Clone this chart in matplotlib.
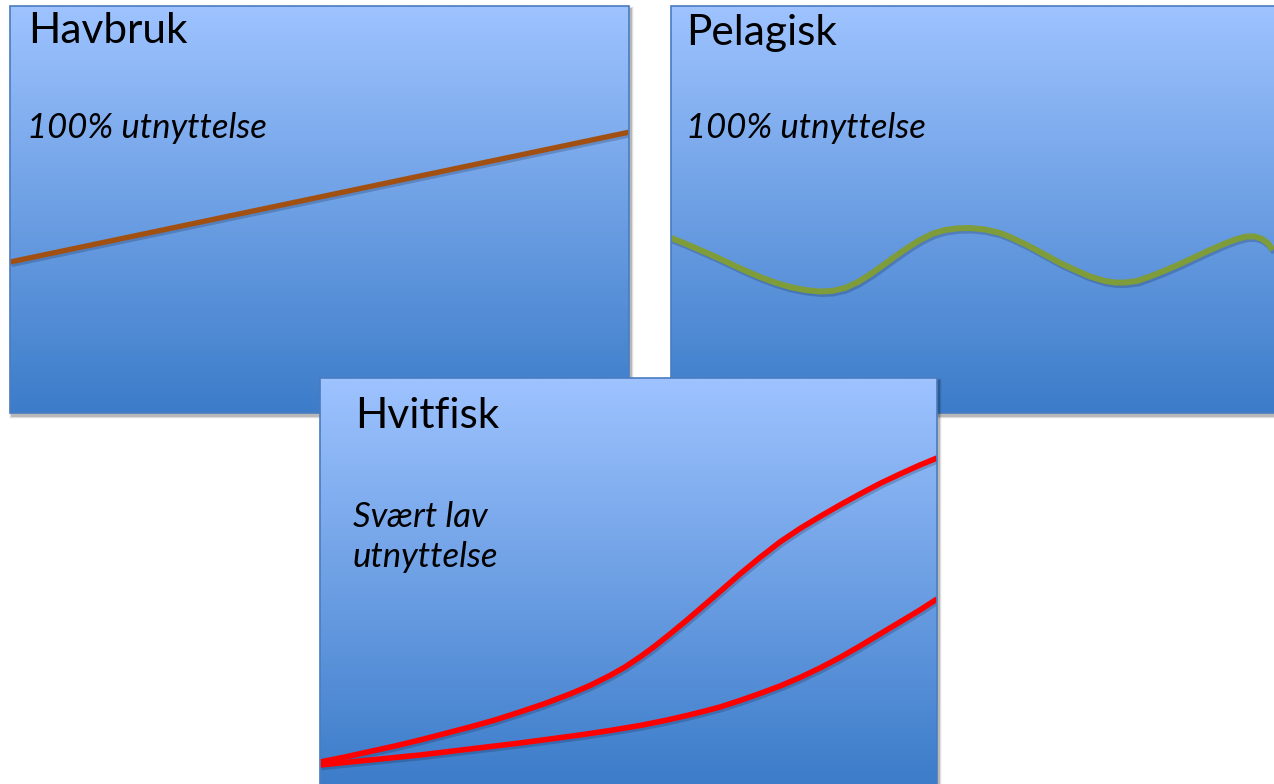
import numpy as np
import matplotlib
matplotlib.use("Agg")
import matplotlib.pyplot as plt
from matplotlib.patches import Rectangle
import matplotlib.patheffects as pe

# ---------------- data (panel units 0-100) ----------------
havbruk_x = [0, 100]
havbruk_y = [37.1, 69.0]

pelagisk_x = [0.0, 2.26, 4.68, 7.11, 9.53, 11.95, 14.38, 16.80, 19.22, 21.65,
              24.07, 26.01, 28.11, 30.21, 32.15, 34.09, 36.19, 38.29, 40.23, 42.33,
              44.26, 46.37, 48.30, 50.73, 53.15, 54.77, 57.19, 59.61, 62.84, 65.27,
              67.69, 70.11, 71.73, 73.34, 75.28, 77.38, 79.81, 82.23, 84.65, 87.08,
              89.50, 91.44, 93.05, 94.35, 95.48, 96.45, 97.25]
pelagisk_y = [43.00, 41.65, 40.05, 38.45, 36.73, 35.01, 33.42, 32.06, 30.96, 30.22,
              29.85, 29.98, 30.71, 32.19, 34.03, 36.12, 38.45, 40.66, 42.51, 44.10,
              44.96, 45.38, 45.45, 45.09, 44.23, 43.24, 41.52, 39.56, 36.86, 35.14,
              33.54, 32.43, 32.06, 32.06, 32.43, 33.54, 35.01, 36.61, 38.33, 40.05,
              41.65, 42.75, 43.37, 43.37, 42.75, 41.65, 40.05]

hvit_upper_x = [0, 4.05, 8.10, 12.16, 16.21, 20.26, 24.31, 28.36, 32.41, 36.47,
                40.52, 43.76, 47.00, 49.43, 51.86, 54.29, 56.73, 59.48, 62.40, 64.83,
                68.07, 71.31, 74.55, 77.80, 81.04, 84.28, 87.52, 90.76, 94.00, 97.24,
                100.0]
hvit_upper_y = [5.65, 6.88, 8.23, 9.58, 11.06, 12.65, 14.25, 15.97, 17.94, 20.02,
                22.36, 24.45, 26.90, 28.99, 31.45, 34.15, 37.10, 40.54, 44.35, 47.54,
                51.84, 55.90, 59.71, 63.02, 65.97, 68.80, 71.50, 74.08, 76.41, 78.62,
                80.34]
hvit_lower_x = [0, 4.05, 8.10, 12.16, 16.21, 20.26, 24.31, 28.36, 32.41, 37.28,
                42.14, 47.00, 51.86, 55.92, 59.48, 62.40, 64.83, 68.07, 71.31, 74.55,
                77.80, 81.04, 84.28, 87.52, 90.76, 94.00, 97.24, 100.0]
hvit_lower_y = [4.91, 5.53, 6.14, 6.76, 7.37, 8.11, 8.85, 9.58, 10.32, 11.30,
                12.29, 13.39, 14.62, 15.85, 17.08, 18.18, 19.16, 20.76, 22.48, 24.32,
                26.41, 28.75, 31.33, 34.15, 37.10, 40.05, 43.00, 45.70]

titles = ["Havbruk", "Pelagisk", "Hvitfisk"]
subtitles = [["100% utnyttelse"], ["100% utnyttelse"], ["Svært lav", "utnyttelse"]]

# ---------------- figure ----------------
W, H = 1274, 784
fig = plt.figure(figsize=(W / 100, H / 100), dpi=100)
fig.patch.set_facecolor("white")

top_col = np.array([158, 195, 255]) / 255
bot_col = np.array([60, 124, 201]) / 255
grad = np.linspace(0, 1, 256)[:, None, None]
grad_img = top_col * (1 - grad) + bot_col * grad  # top row first
grad_img = np.repeat(grad_img, 2, axis=1)


def px_rect(x0, y0, w, h):
    """pixel rect (top-left origin) -> figure fraction [l, b, w, h]"""
    return [x0 / W, (H - y0 - h) / H, w / W, h / H]


def add_shadow(x0, y0, w, h, z):
    for i, a in enumerate([0.10, 0.08, 0.06, 0.04, 0.03]):
        g = i + 1
        r = Rectangle(((x0 + 2 - g * 0.6) / W, (H - y0 - h - 3 - g * 0.6) / H),
                      (w + g * 1.2) / W, (h + g * 1.2) / H,
                      transform=fig.transFigure, facecolor="black",
                      edgecolor="none", alpha=a, zorder=z)
        fig.patches.append(r)


def make_panel(x0, y0, w, h, z):
    add_shadow(x0, y0, w, h, z - 0.5)
    ax = fig.add_axes(px_rect(x0, y0, w, h))
    ax.set_zorder(z)
    ax.set_xlim(0, 100)
    ax.set_ylim(0, 100)
    ax.axis("off")
    ax.imshow(grad_img, extent=[0, 100, 0, 100], aspect="auto", zorder=0,
              interpolation="bilinear")
    ax.add_patch(Rectangle((0, 0), 1, 1, transform=ax.transAxes, fill=False,
                           edgecolor="#4A7CC0", linewidth=1.2, zorder=5,
                           clip_on=False))
    return ax


shadow_fx = [pe.SimpleLineShadow(offset=(1.0, -1.8), shadow_color="#0a1a3a",
                                 alpha=0.22), pe.Normal()]

ax1 = make_panel(10, 6, 619, 407, 1)
ax2 = make_panel(671, 6, 619, 407, 1)
ax3 = make_panel(320, 378, 617, 407, 3)

ax1.plot(havbruk_x, havbruk_y, color="#A24F12", lw=3.8, solid_capstyle="butt",
         path_effects=shadow_fx, zorder=3)
ax2.plot(pelagisk_x, pelagisk_y, color="#7E9C3A", lw=4.3, solid_capstyle="butt",
         solid_joinstyle="round", path_effects=shadow_fx, zorder=3)
ax3.plot(hvit_upper_x, hvit_upper_y, color="#FF0000", lw=4.0,
         solid_capstyle="butt", solid_joinstyle="round",
         path_effects=shadow_fx, zorder=3)
ax3.plot(hvit_lower_x, hvit_lower_y, color="#FF0000", lw=4.0,
         solid_capstyle="butt", solid_joinstyle="round",
         path_effects=shadow_fx, zorder=3)

# ---------------- text (fit sizes to reference widths) ----------------
renderer = fig.canvas.get_renderer()


def fit_size(text, target_px, style="normal"):
    t = fig.text(0, 0, text, fontsize=20, family="Lato", style=style)
    wpx = t.get_window_extent(renderer).width
    t.remove()
    return 20 * target_px / wpx


title_fs = fit_size("Havbruk", 160)
sub_fs = fit_size("100% utnyttelse", 240, "italic")

title_pos = [(0.029, 0.909), (0.024, 0.904), (0.057, 0.877)]
sub_pos = [(0.027, 0.676), (0.025, 0.676), (0.053, 0.634)]
line_step = 0.098  # ~40 px between subtitle lines
for ax, ttl, sub, tp, sp in zip([ax1, ax2, ax3], titles, subtitles, title_pos, sub_pos):
    ax.text(tp[0], tp[1], ttl, transform=ax.transAxes, family="Lato",
            fontsize=title_fs, color="black", va="baseline", ha="left", zorder=6)
    for k, line in enumerate(sub):
        ax.text(sp[0], sp[1] - k * line_step, line, transform=ax.transAxes,
                family="Lato", style="italic", fontsize=sub_fs, color="black",
                va="baseline", ha="left", zorder=6)

fig.savefig("out.png", dpi=100, facecolor="white")
